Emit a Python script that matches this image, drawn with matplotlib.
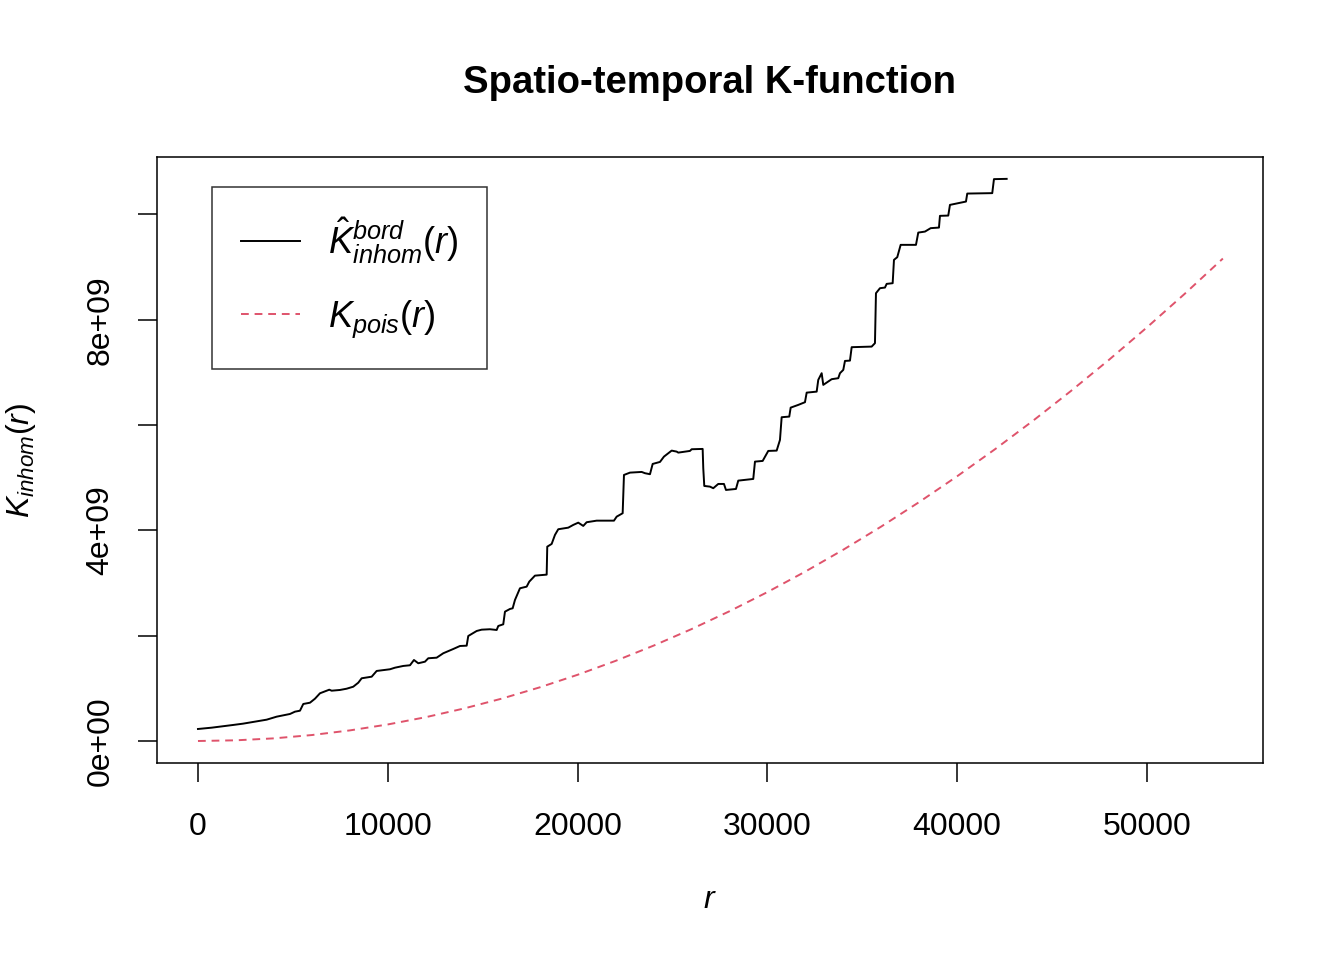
import matplotlib
matplotlib.use("Agg")
import matplotlib.pyplot as plt

plt.rcParams['font.family'] = ['Liberation Sans', 'DejaVu Sans']
plt.rcParams['mathtext.fontset'] = 'custom'
plt.rcParams['mathtext.rm'] = 'Liberation Sans'
plt.rcParams['mathtext.it'] = 'Liberation Sans:italic'

# empirical K (border corrected), values in units of 1e9
r_bord = [0, 722, 1317, 1844, 2371, 3003, 3620, 4146, 4847, 5111, 5374, 5548,
          5901, 6164, 6428, 6918, 7044, 7481, 7834, 8182, 8446, 8625, 9152,
          9415, 10116, 10379, 10817, 11170, 11380, 11607, 11960, 12134, 12576,
          12924, 13451, 13804, 14157, 14241, 14684, 14947, 15385, 15738, 15822,
          16085, 16175, 16438, 16580, 16702, 16965, 17318, 17455, 17755, 18372,
          18403, 18635, 18809, 18983, 19510, 19773, 20036, 20300, 20479, 21006,
          21918, 22060, 22376, 22445, 22761, 23378, 23551, 23815, 23957, 24342,
          24552, 24958, 25221, 25306, 25922, 26012, 26591, 26623, 26676, 26976,
          27150, 27413, 27713, 27819, 28346, 28467, 29257, 29347, 29752, 30047,
          30490, 30664, 30753, 31154, 31228, 31628, 31981, 32071, 32598, 32682,
          32861, 32946, 33125, 33388, 33736, 33825, 34000, 34089, 34352, 34442,
          35495, 35669, 35722, 35933, 36196, 36286, 36602, 36671, 36844, 37023,
          37830, 37951, 38304, 38604, 39041, 39094, 39531, 39621, 40058, 40464,
          40532, 41849, 41939, 42608]
k_bord = [0.228, 0.253, 0.279, 0.304, 0.329, 0.367, 0.405, 0.462, 0.513, 0.557,
          0.575, 0.703, 0.727, 0.803, 0.906, 0.974, 0.955, 0.969, 0.993, 1.031,
          1.107, 1.191, 1.221, 1.330, 1.362, 1.392, 1.425, 1.438, 1.538, 1.476,
          1.506, 1.571, 1.582, 1.666, 1.747, 1.804, 1.810, 1.994, 2.089, 2.114,
          2.122, 2.108, 2.184, 2.216, 2.456, 2.507, 2.520, 2.678, 2.900, 2.931,
          3.026, 3.140, 3.159, 3.690, 3.742, 3.913, 4.021, 4.051, 4.103, 4.146,
          4.084, 4.154, 4.184, 4.184, 4.260, 4.325, 5.052, 5.096, 5.109, 5.085,
          5.066, 5.261, 5.299, 5.400, 5.514, 5.495, 5.476, 5.508, 5.540, 5.546,
          5.179, 4.843, 4.830, 4.800, 4.881, 4.881, 4.767, 4.786, 4.944, 4.976,
          5.305, 5.318, 5.508, 5.514, 5.717, 6.148, 6.160, 6.330, 6.382, 6.433,
          6.615, 6.634, 6.857, 6.984, 6.762, 6.805, 6.870, 6.889, 6.984, 7.047,
          7.217, 7.223, 7.478, 7.489, 7.554, 8.503, 8.598, 8.610, 8.680, 8.693,
          9.136, 9.187, 9.421, 9.421, 9.654, 9.673, 9.738, 9.749, 9.972, 9.977,
          10.180, 10.213, 10.243, 10.395, 10.403, 10.669, 10.674]

# theoretical Poisson K, values in units of 1e9
r_pois = [0, 2000, 4000, 6000, 8000, 10000, 12000, 14000, 16000, 18000, 20000,
          22000, 24000, 26000, 28000, 30000, 32000, 34000, 36000, 38000, 40000,
          42000, 44000, 46000, 48000, 50000, 52000, 54000]
k_pois = [0, 0.013, 0.050, 0.113, 0.201, 0.314, 0.452, 0.616, 0.804, 1.018,
          1.257, 1.521, 1.810, 2.124, 2.463, 2.827, 3.217, 3.632, 4.072, 4.537,
          5.027, 5.542, 6.082, 6.648, 7.238, 7.854, 8.495, 9.161]

x_ticks = [0, 10000, 20000, 30000, 40000, 50000]
y_ticks = [0, 2e9, 4e9, 6e9, 8e9, 10e9]
y_labels = ['0e+00', '', '4e+09', '', '8e+09', '']

fig = plt.figure(figsize=(13.44, 9.6), dpi=100)
ax = fig.add_axes([0.1168, 0.2052, 0.8229, 0.6313])

ax.plot(r_bord, [k * 1e9 for k in k_bord], color='black', lw=1.4,
        label=r'$\hat{K}_{inhom}^{bord}(r)$')
ax.plot(r_pois, [k * 1e9 for k in k_pois], color='#DF536B', lw=1.4,
        linestyle=(0, (4, 3)), label=r'$K_{pois}(r)$')

ax.set_xlim(-2160, 56112)
ax.set_ylim(-0.418e9, 11.09e9)
ax.set_xticks(x_ticks)
ax.set_xticklabels([str(t) for t in x_ticks])
ax.set_yticks(y_ticks)
ax.set_yticklabels(y_labels, rotation=90, va='center')
ax.tick_params(labelsize=23, length=14, width=1.1)
ax.tick_params(axis='x', pad=21)
ax.tick_params(axis='y', pad=16)
for s in ax.spines.values():
    s.set_linewidth(1.1)

ax.set_title('Spatio-temporal K-function', fontsize=27.5, fontweight='bold', pad=46)
ax.set_xlabel(r'$r$', fontsize=23, labelpad=31)
ax.set_ylabel(r'$K_{inhom}(r)$', fontsize=23, labelpad=34)

leg = ax.legend(loc='upper left', bbox_to_anchor=(0.0497, 0.9505), borderaxespad=0,
                fancybox=False, edgecolor='black', fontsize=26, handlelength=1.63,
                handletextpad=0.78, borderpad=0.8, labelspacing=0.9)
leg.get_frame().set_linewidth(1.1)

fig.savefig('out.png', dpi=100)
